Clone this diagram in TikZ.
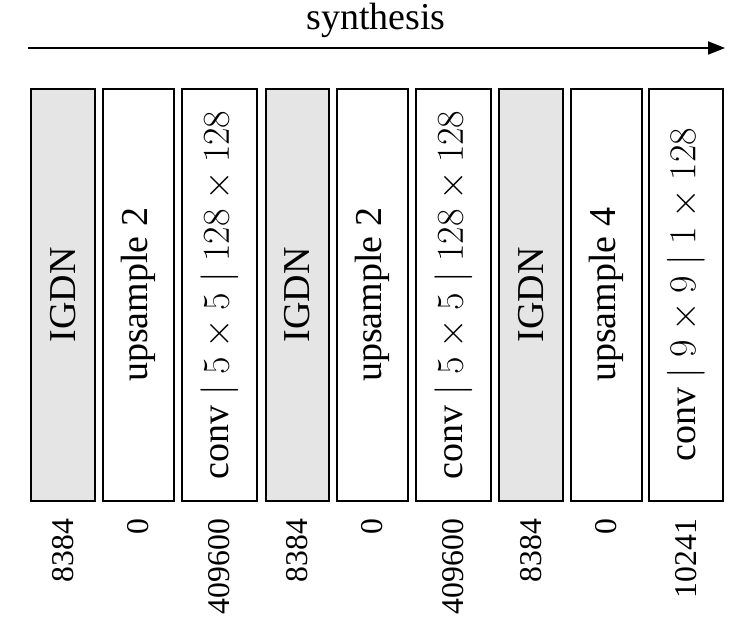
\RequirePackage{fix-cm}
\documentclass[tikz,border=0pt]{standalone}
\usepackage{fontspec}
\setmainfont{Liberation Serif}
\usetikzlibrary{arrows.meta}
\begin{document}
\begin{tikzpicture}[x=1pt,y=-1pt,
  blk/.style={draw,line width=1.8pt,minimum height=412pt,inner sep=0pt,anchor=north west},
  gblk/.style={blk,fill=gray!20},
  lbl/.style={rotate=90,font=\fontsize{38}{40}\selectfont},
  num/.style={rotate=90,anchor=east,inner sep=0pt,font=\fontsize{31.7}{36}\selectfont}]
\useasboundingbox (0,0) rectangle (743,631);
\node[inner sep=0pt,font=\fontsize{38}{42}\selectfont] (title) at (376,20) {synthesis};
\coordinate (as) at (28,48);
\coordinate (ae) at (725,48);
\draw[line width=1.8pt,-{Triangle[length=17pt,width=13pt]}] (as) -- (ae);
\node[gblk,minimum width=64pt] (b1) at (30,88) {};
\node[blk,minimum width=71pt] (b2) at (102,88) {};
\node[blk,minimum width=75pt] (b3) at (181,88) {};
\node[gblk,minimum width=63pt] (b4) at (265,88) {};
\node[blk,minimum width=71pt] (b5) at (336,88) {};
\node[blk,minimum width=75pt] (b6) at (415,88) {};
\node[gblk,minimum width=64pt] (b7) at (498,88) {};
\node[blk,minimum width=71pt] (b8) at (570,88) {};
\node[blk,minimum width=74pt] (b9) at (648,88) {};
\node[lbl] (t1) at (b1.center) {IGDN};
\node[lbl] (t2) at (b2.center) {upsample 2};
\node[lbl] (t3) at (b3.center) {conv $\mid 5\times5 \mid 128\times128$};
\node[lbl] (t4) at (b4.center) {IGDN};
\node[lbl] (t5) at (b5.center) {upsample 2};
\node[lbl] (t6) at (b6.center) {conv $\mid 5\times5 \mid 128\times128$};
\node[lbl] (t7) at (b7.center) {IGDN};
\node[lbl] (t8) at (b8.center) {upsample 4};
\node[lbl] (t9) at (b9.center) {conv $\mid 9\times9 \mid 1\times128$};
\node[num] (n1) at ([yshift=-17pt]b1.south) {8384};
\node[num] (n2) at ([yshift=-17pt]b2.south) {0};
\node[num] (n3) at ([yshift=-17pt]b3.south) {409600};
\node[num] (n4) at ([yshift=-17pt]b4.south) {8384};
\node[num] (n5) at ([yshift=-17pt]b5.south) {0};
\node[num] (n6) at ([yshift=-17pt]b6.south) {409600};
\node[num] (n7) at ([yshift=-17pt]b7.south) {8384};
\node[num] (n8) at ([yshift=-17pt]b8.south) {0};
\node[num] (n9) at ([yshift=-17pt]b9.south) {10241};
\end{tikzpicture}
\end{document}
